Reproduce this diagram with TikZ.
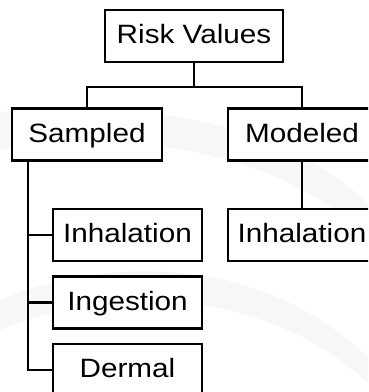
\documentclass[tikz,border=0pt]{standalone}
\usepackage{fontspec}
\newfontfamily\boxfont{Liberation Sans}[FakeStretch=1.12]
\usetikzlibrary{positioning}

\tikzset{
  treebox/.style={draw, fill=white, line width=2.8pt, minimum height=52pt, inner sep=0pt,
    font=\boxfont\fontsize{26.5}{30}\selectfont, text height=19pt, text depth=4pt},
  treeline/.style={line width=2.8pt}
}

\begin{document}
\begin{tikzpicture}[x=1pt,y=-1pt]
		\useasboundingbox (0,0) rectangle (368,392);
		\clip (0,0) rectangle (368,392);
		% faint background swoosh
		\fill[black!3] (0,112) .. controls (150,95) and (300,130) .. (380,215) -- (380,250) .. controls (300,160) and (150,125) .. (0,150) -- cycle;
		\fill[black!3] (0,300) .. controls (120,250) and (280,260) .. (380,370) -- (380,395) .. controls (280,290) and (120,280) .. (0,330) -- cycle;
		% boxes
		\node[treebox, minimum width=178pt] (risk) at (194,36) {Risk Values};
		\node[treebox, minimum width=150pt] (sampled) at (87,134.5) {Sampled};
		\node[treebox, minimum width=148pt] (modeled) at (302,134.5) {Modeled};
		\node[treebox, minimum width=149pt] (inhalS) at (127.5,235) {Inhalation};
		\node[treebox, minimum width=149pt] (ingest) at (127.5,302.5) {Ingestion};
		\node[treebox, minimum width=149pt] (dermal) at (127.5,370) {Dermal};
		\node[treebox, minimum width=148pt] (inhalM) at (302,235) {Inhalation};
		% connectors
		\coordinate (bus) at (194,87);
		\coordinate (trunk) at (28,161);
		\draw[treeline] (risk.south) -- (bus);
		\draw[treeline] (sampled.north) |- (bus) -| (modeled.north);
		\draw[treeline] (modeled.south) -- (inhalM.north);
		\draw[treeline] (trunk) |- (dermal.west);
		\draw[treeline] (trunk |- inhalS.west) -- (inhalS.west);
		\draw[treeline] (trunk |- ingest.west) -- (ingest.west);
	\end{tikzpicture}
\end{document}
